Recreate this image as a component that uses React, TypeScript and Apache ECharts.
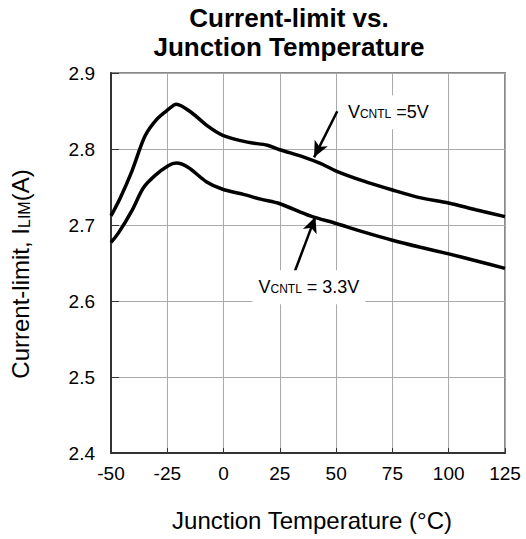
import React, { useEffect, useRef } from "react";
import * as echarts from "echarts";

// Junction temperature (°C) and current limit (A)
const temps5V = [-50, -46, -40.7, -34.9, -29.7, -24.6, -21, -14.3, -7, -0.4, 10.6, 19.5, 25, 35, 43, 50, 62, 75, 87, 100, 112, 125];
const ilim5V = [2.712, 2.735, 2.771, 2.817, 2.839, 2.852, 2.859, 2.848, 2.83, 2.818, 2.809, 2.805, 2.799, 2.79, 2.781, 2.771, 2.758, 2.746, 2.736, 2.729, 2.72, 2.711];

const temps33V = [-50, -46.6, -40.7, -35.6, -30.5, -24.6, -21, -15.8, -7.7, -0.4, 9.2, 16.5, 25, 38.5, 50, 62, 75, 87, 100, 112, 125];
const ilim33V = [2.677, 2.69, 2.719, 2.749, 2.765, 2.778, 2.7815, 2.776, 2.757, 2.747, 2.74, 2.734, 2.728, 2.712, 2.702, 2.691, 2.68, 2.671, 2.662, 2.653, 2.643];

const xTicks = [-50, -25, 0, 25, 50, 75, 100, 125];
const yTicks = [2.4, 2.5, 2.6, 2.7, 2.8, 2.9];

// annotation anchors in data space
const arrow5V = [[50.5, 2.8497], [40.2, 2.789]];
const arrow33V = [[30.5, 2.63], [40.8, 2.711]];
const label5V = [73.2, 2.8484];
const label33V = [37.9, 2.618];

const FONT = "'Liberation Sans', Arial, sans-serif";

export default function App() {
  const ref = useRef<HTMLDivElement>(null);
  useEffect(() => {
    document.body.style.margin = "0";
    const chart = echarts.init(ref.current!, null, { renderer: "svg" });
    const pair = (xs: number[], ys: number[]) => xs.map((x, i) => [x, ys[i]]);
    const richLbl = {
      v: { fontSize: 18, fontFamily: FONT, color: "#000" },
      s: { fontSize: 12, fontFamily: FONT, color: "#000", verticalAlign: "bottom", padding: [0, 0, 1, 0] },
    };
    chart.setOption({
      animation: false,
      textStyle: { fontFamily: FONT },
      title: {
        text: "Current-limit vs.\nJunction Temperature",
        left: 284,
        textAlign: "center",
        top: -2,
        textStyle: { fontSize: 26, fontWeight: "bold", color: "#000", fontFamily: FONT, lineHeight: 29 },
      },
      grid: {
        left: 109,
        right: 21,
        top: 73,
        bottom: 86,
        show: true,
        borderColor: "#888",
        borderWidth: 2,
        backgroundColor: "#fff",
      },
      xAxis: {
        type: "value",
        min: xTicks[0],
        max: xTicks[xTicks.length - 1],
        interval: 25,
        name: "Junction Temperature (°C)",
        nameLocation: "middle",
        nameGap: 55,
        nameTextStyle: { fontSize: 24, color: "#000", fontFamily: FONT, padding: [0, 0, 0, 8] },
        axisLine: { show: true, onZero: false, lineStyle: { color: "#333", width: 2 } },
        axisTick: { show: true, inside: true, length: 5, lineStyle: { color: "#333", width: 1 } },
        axisLabel: { fontSize: 19, color: "#000", margin: 11, fontFamily: FONT },
        splitLine: { show: true, lineStyle: { color: "#aaa", width: 1 } },
      },
      yAxis: {
        type: "value",
        min: yTicks[0],
        max: yTicks[yTicks.length - 1],
        interval: 0.1,
        name: "Current-limit, I{s|LIM}(A)",
        nameLocation: "middle",
        nameGap: 79,
        nameRotate: 90,
        nameTextStyle: {
          fontSize: 24,
          color: "#000",
          fontFamily: FONT,
          padding: [0, 22, 0, 0],
          rich: { s: { fontSize: 16, color: "#000", fontFamily: FONT, verticalAlign: "bottom" } },
        },
        axisLine: { show: true, onZero: false, lineStyle: { color: "#333", width: 2 } },
        axisTick: { show: true, inside: true, length: 8, lineStyle: { color: "#333", width: 1 } },
        axisLabel: { fontSize: 19, color: "#000", margin: 16, fontFamily: FONT, formatter: (v: number) => v.toFixed(1) },
        splitLine: { show: true, lineStyle: { color: "#aaa", width: 1 } },
      },
      series: [
        {
          type: "line",
          name: "VCNTL=5V",
          data: pair(temps5V, ilim5V),
          smooth: 0.3,
          showSymbol: false,
          lineStyle: { color: "#000", width: 3.5 },
          z: 3,
          markLine: {
            silent: true,
            symbol: ["none", "arrow"],
            symbolSize: [11, 16],
            label: { show: false },
            lineStyle: { color: "#000", width: 2.5, type: "solid" },
            data: [[{ coord: arrow5V[0] }, { coord: arrow5V[1] }]],
          },
          markPoint: {
            silent: true,
            symbol: "rect",
            symbolSize: 1,
            itemStyle: { color: "rgba(0,0,0,0)" },
            label: {
              show: true,
              position: "inside",
              formatter: "{v|V}{s|CNTL}{v| =5V}",
              backgroundColor: "#fff",
              padding: [8, 5, 8, 5],
              rich: richLbl,
            },
            data: [{ coord: label5V }],
          },
        },
        {
          type: "line",
          name: "VCNTL=3.3V",
          data: pair(temps33V, ilim33V),
          smooth: 0.3,
          showSymbol: false,
          lineStyle: { color: "#000", width: 3.5 },
          z: 3,
          markLine: {
            silent: true,
            symbol: ["none", "arrow"],
            symbolSize: [11, 16],
            label: { show: false },
            lineStyle: { color: "#000", width: 2.5, type: "solid" },
            data: [[{ coord: arrow33V[0] }, { coord: arrow33V[1] }]],
          },
          markPoint: {
            silent: true,
            symbol: "rect",
            symbolSize: 1,
            itemStyle: { color: "rgba(0,0,0,0)" },
            label: {
              show: true,
              position: "inside",
              formatter: "{v|V}{s|CNTL}{v| = 3.3V}",
              backgroundColor: "#fff",
              padding: [8, 6, 8, 6],
              rich: richLbl,
            },
            data: [{ coord: label33V }],
          },
        },
      ],
    });
    return () => chart.dispose();
  }, []);
  return <div ref={ref} style={{ width: 526, height: 539 }} />;
}
